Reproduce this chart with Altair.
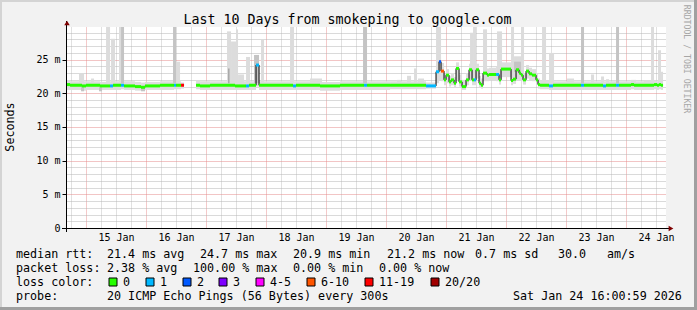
import altair as alt
import pandas as pd

MONO = "DejaVu Sans Mono"
T0 = pd.Timestamp("2026-01-14 16:00:59")
END_HOURS = 238.8

# ---- median segments (hours since start, median ms, loss class, smoke low, smoke high)
seg_hours = [0.0, 1.6, 6.4, 8.0, 13.6, 17.6, 18.8, 22.0, 23.2, 27.6, 30.0, 31.6, 37.6, 43.2, 44.0, 46.0, 47.2,
             52.0, 53.6, 57.6, 67.6, 72.0, 73.2, 76.0, 77.2, 90.8, 92.0, 101.6, 109.6, 119.2, 120.4, 129.6,
             144.0, 148.0, 149.2, 150.0, 151.2, 152.0, 153.2, 154.0, 155.2, 156.0, 157.2, 158.4, 160.0,
             161.2, 162.4, 163.2, 164.0, 165.2, 166.0, 166.8, 168.4, 169.2, 172.0, 173.2, 174.0, 178.0,
             178.8, 180.0, 181.2, 182.0, 182.8, 184.0, 185.2, 186.4, 188.0, 188.8, 189.6, 193.2, 194.8,
             206.0, 207.2, 214.8, 216.0, 220.0, 221.2, 226.0, 227.2, 235.2, 236.4, 237.2, 238.0]
seg_median = [21.3, 21.2, 21.1, 21.2, 21.1, 21.1, 21.2, 21.2, 21.1, 21.0, 20.9, 21.1, 21.2, 21.2, 21.2, 21.2, None,
              21.2, 21.1, 21.2, 21.1, 21.1, 21.2, 24.2, 21.2, 21.1, 21.2, 21.1, 21.2, 21.2, 21.2, 21.2,
              21.1, 23.2, 24.7, 23.3, 22.0, 22.7, 21.7, 22.0, 21.5, 23.7, 21.7, 21.0, 22.0,
              23.5, 22.0, 22.0, 23.5, 21.5, 21.2, 23.0, 22.7, 22.8, 22.8, 22.0, 23.6, 21.9,
              22.1, 23.5, 23.0, 22.7, 22.0, 23.3, 22.9, 22.7, 22.0, 21.3, 21.2, 21.1, 21.2,
              21.2, 21.2, 21.1, 21.2, 21.2, 21.2, 21.3, 21.2, 21.3, 21.2, 21.3, 21.2]
seg_loss = [0, 0, 0, 0, 0, 1, 0, 1, 0, 0, 0, 0, 0, 1, 0, 6, None,
            0, 0, 0, 0, 1, 0, 1, 0, 1, 0, 0, 0, 1, 0, 0,
            1, 1, 2, 5, 0, 0, 0, 0, 0, 0, 0, 0, 0,
            0, 0, 1, 0, 0, 0, 0, 0, 0, 1, 0, 0, 0,
            0, 0, 0, 0, 0, 0, 0, 0, 0, 0, 0, 1, 0,
            1, 0, 1, 0, 1, 0, 0, 0, 0, 0, 0, 0]
seg_lo = [20.5, 20.5, 20.4, 20.5, 20.5, 20.5, 20.5, 20.6, 20.5, 20.4, 20.4, 20.5, 20.5, 20.6, 20.6, 20.7, None,
          20.6, 20.5, 20.5, 20.5, 20.5, 20.5, 21.0, 20.5, 20.5, 20.5, 20.4, 20.5, 20.5, 20.5, 20.6,
          20.7, 21.5, 22.0, 21.8, 21.2, 21.5, 21.0, 21.2, 20.9, 22.0, 21.0, 20.5, 21.2,
          22.0, 21.2, 21.2, 22.2, 20.9, 20.7, 21.8, 21.8, 21.9, 21.8, 21.3, 22.4, 21.2,
          21.4, 22.3, 22.0, 21.8, 21.3, 22.2, 21.9, 21.8, 21.3, 20.7, 20.6, 20.5, 20.5,
          20.5, 20.5, 20.5, 20.5, 20.5, 20.5, 20.6, 20.5, 20.6, 20.5, 20.6, 20.5]
seg_hi = [21.9, 21.8, 21.8, 21.8, 21.7, 21.8, 21.8, 21.9, 21.8, 21.7, 21.6, 21.7, 21.8, 21.9, 21.8, 21.6, None,
          21.9, 21.8, 21.8, 21.8, 21.8, 21.8, 25.0, 21.8, 21.8, 21.8, 21.7, 21.8, 21.8, 21.8, 21.8,
          21.6, 24.5, 25.5, 24.5, 23.0, 23.6, 22.6, 23.0, 22.4, 24.6, 22.8, 22.0, 23.0,
          24.4, 23.2, 23.4, 24.4, 22.6, 22.2, 24.0, 23.7, 23.8, 24.0, 23.0, 24.6, 23.0,
          23.2, 24.7, 24.7, 23.8, 23.0, 24.2, 23.8, 23.6, 23.0, 22.2, 21.9, 21.8, 21.8,
          21.8, 21.8, 21.8, 21.8, 21.8, 21.8, 21.9, 21.8, 21.9, 21.8, 21.9, 21.8]

# ---- extra smoke (ping spread) spikes
spike_start = [5.2, 10.0, 16.0, 18.0, 21.2, 22.0, 42.8, 44.0, 6.0, 13.2, 30.0,
               64.4, 64.8, 66.0, 68.0, 68.8, 72.0, 75.2, 78.0, 89.6, 97.6, 118.8, 132.4, 136.4, 139.2, 140.8,
               148.0, 161.6, 162.8, 166.8, 172.4, 178.0, 179.2, 179.2, 182.0, 190.4, 193.2,
               200.4, 206.0, 210.0, 214.0, 216.0, 220.0, 226.0, 231.2, 234.0, 236.8, 238.0]
spike_end = [7.2, 11.2, 17.6, 19.6, 22.0, 23.2, 44.0, 45.6, 7.2, 14.4, 31.6,
             66.0, 65.4, 68.0, 68.8, 71.2, 73.6, 77.2, 79.2, 91.2, 102.4, 120.4, 134.0, 138.0, 140.4, 143.2,
             150.0, 162.8, 164.0, 168.4, 174.4, 179.2, 182.0, 182.0, 183.2, 192.0, 195.2,
             203.2, 207.2, 211.2, 215.2, 217.2, 221.2, 228.0, 234.0, 235.2, 238.0, 238.8]
spike_lo = [21.5, 21.5, 21.5, 21.5, 21.5, 21.5, 21.5, 21.5, 20.3, 20.3, 20.3,
            21.5, 21.5, 21.5, 21.5, 21.5, 21.5, 21.5, 21.5, 21.5, 21.5, 21.5, 21.5, 21.5, 21.5, 21.5,
            22.0, 22.0, 22.0, 22.0, 22.0, 22.0, 22.0, 23.2, 22.0, 21.5, 21.5,
            21.5, 21.5, 21.5, 21.5, 21.5, 21.5, 21.5, 21.5, 21.5, 21.5, 21.5]
spike_hi = [23.0, 22.2, 29.85, 28.1, 29.85, 29.85, 29.85, 24.7, 21.0, 21.0, 21.0,
            29.2, 23.7, 27.7, 29.5, 22.8, 25.4, 25.7, 28.0, 29.85, 22.2, 29.85, 22.0, 22.6, 23.7, 22.2,
            29.85, 29.0, 29.85, 29.5, 29.2, 29.85, 25.5, 24.7, 29.85, 29.85, 26.0,
            22.2, 29.85, 22.8, 22.5, 22.1, 29.85, 22.0, 21.9, 29.85, 26.4, 23.2]
spike_shade = ["l", "l", "l", "l", "l", "m", "m", "l", "m", "m", "m",
               "l", "d", "l", "l", "l", "l", "m", "l", "l", "l", "m", "l", "l", "l", "l",
               "l", "l", "l", "l", "l", "l", "l", "m", "l", "l", "l",
               "l", "m", "l", "l", "l", "m", "l", "l", "l", "l", "l"]

loss_labels = ["0", "1", "2", "3", "4-5", "6-10", "11-19", "20/20"]
loss_colors = ["#26ff00", "#00b8ff", "#0059ff", "#7e00ff", "#ff00ff", "#ff5500", "#ff0000", "#a10000"]
shade_names = ["band", "l", "m", "d"]
shade_colors = ["#dddddd", "#dcdcdc", "#c4c4c4", "#a8a8a8"]

y_grid_values = list(range(0, 30))
day_labels = list(range(15, 25))

title_text = "Last 10 Days from smokeping to google.com"
rtt_stats = ["median rtt:", "21.4 ms avg", "24.7 ms max", "20.9 ms min", "21.2 ms now", "0.7 ms sd", "30.0", "am/s"]
loss_stats = ["packet loss:", "2.38 % avg", "100.00 % max", "0.00 % min", "0.00 % now"]
probe_text = ["probe:", "20 ICMP Echo Pings (56 Bytes) every 300s", "Sat Jan 24 16:00:59 2026"]

# ---------------------------------------------------------------------------
def ts(h):
    return (T0 + pd.to_timedelta(h, unit="h")).round("s").strftime("%Y-%m-%dT%H:%M:%S")

seg = pd.DataFrame({"h": seg_hours, "median": seg_median, "loss": seg_loss, "lo": seg_lo, "hi": seg_hi})
seg["h_end"] = seg["h"].shift(-1).fillna(END_HOURS)
seg["t"] = seg["h"].map(ts)
seg["t_end"] = seg["h_end"].map(ts)
valid = seg.dropna(subset=["median"]).copy()
valid["loss_label"] = valid["loss"].astype(int).map(lambda i: loss_labels[i])
valid["shade"] = "band"

line_df = pd.concat([seg[["t", "median"]],
                     pd.DataFrame({"t": [ts(END_HOURS)], "median": [seg_median[-1]]})], ignore_index=True)

spikes = pd.DataFrame({"t": [ts(h) for h in spike_start], "t_end": [ts(h) for h in spike_end],
                       "lo": spike_lo, "hi": spike_hi, "shade": spike_shade})
smoke = pd.concat([valid[["t", "t_end", "lo", "hi", "shade"]], spikes], ignore_index=True)
smoke["order"] = smoke["shade"].map({s: i for i, s in enumerate(shade_names)})
smoke = smoke.sort_values("order", kind="stable")
smoke["col"] = smoke["shade"].map(dict(zip(shade_names, shade_colors)))
valid["col"] = valid["loss_label"].map(dict(zip(loss_labels, loss_colors)))

# whole-hour domain keeps the 6-hour grid on exact pixels (600 px / 240 h)
xscale = alt.Scale(domain=[alt.DateTime(year=2026, month=1, date=14, hours=16),
                           alt.DateTime(year=2026, month=1, date=24, hours=16)])
yscale = alt.Scale(domain=[0, 29.85], nice=False, zero=False)

x_grid = [alt.DateTime(year=2026, month=1, date=t.day, hours=t.hour)
          for t in pd.date_range("2026-01-14 18:00", "2026-01-24 12:00", freq="6h")]

x_axis = alt.Axis(values=x_grid, format="%d %b",
                  labelExpr="hours(datum.value) == 12 ? datum.label : ''",
                  grid=True, gridDash=[1, 1], gridWidth=1,
                  gridColor={"condition": {"test": "hours(datum.value) == 0", "value": "#e99494"},
                             "value": "#c2c2c2"},
                  domain=False, ticks=False, labelFont=MONO, labelFontSize=10,
                  labelColor="#000000", labelPadding=4, title=None, labelFlush=False, labelOverlap=False)
y_axis = alt.Axis(values=y_grid_values,
                  labelExpr="datum.value % 5 == 0 ? (datum.value == 0 ? '0' : datum.value + ' m') : ''",
                  grid=True, gridDash=[1, 1], gridWidth=1,
                  gridColor={"condition": {"test": "datum.value % 5 == 0", "value": "#e58a8a"},
                             "value": "#b4b4b4"},
                  domain=False, ticks=True, tickSize=4, tickWidth=1,
                  tickColor={"condition": {"test": "datum.value % 5 == 0", "value": "#000000"},
                             "value": "transparent"},
                  labelFont=MONO, labelFontSize=10, labelColor="#000000", labelPadding=2, title=None,
                  labelOverlap=False)

def X(f):
    return alt.X(f, type="temporal", scale=xscale, axis=x_axis)

def Y(f):
    return alt.Y(f, type="quantitative", scale=yscale, axis=y_axis)

layers = []

# smoke (colours carried as data-mapped identity values)
layers.append(alt.Chart(smoke).mark_rect(clip=True).encode(
    x=X("t"), x2="t_end", y=Y("lo"), y2="hi", color=alt.Color("col:N", scale=None)))

# median line (black) and loss-coloured median
layers.append(alt.Chart(line_df).mark_line(interpolate="step-after", color="#000000", strokeWidth=1, clip=True).encode(
    x=X("t"), y=Y("median")))
layers.append(alt.Chart(valid).mark_rule(strokeWidth=3, strokeCap="butt", clip=True).encode(
    x=X("t"), x2="t_end", y=Y("median"), color=alt.Color("col:N", scale=None)))

dummy = pd.DataFrame({"d": [0]})
OX, OY = 66, 27

def txt(s, xa, ya, size=11.7, align="left", angle=None, color="#000000", baseline="alphabetic"):
    kw = dict(text=s, font=MONO, fontSize=size, align=align, baseline=baseline, color=color)
    if angle is not None:
        kw["angle"] = angle
    return alt.Chart(dummy).mark_text(**kw).encode(x=alt.value(xa - OX), y=alt.value(ya - OY))

def box(x1, y1, x2, y2, fill, stroke=None):
    kw = dict(color=fill)
    if stroke:
        kw.update(stroke=stroke, strokeWidth=1)
    return alt.Chart(dummy).mark_rect(**kw).encode(
        x=alt.value(x1 - OX), x2=alt.value(x2 - OX), y=alt.value(y1 - OY), y2=alt.value(y2 - OY))

# axis lines and arrows
layers.append(alt.Chart(dummy).mark_rule(color="#000000", strokeWidth=1).encode(
    x=alt.value(0.5), y=alt.value(232 - OY), y2=alt.value(21 - OY)))
layers.append(alt.Chart(dummy).mark_rule(color="#000000", strokeWidth=1).encode(
    x=alt.value(62 - OX), x2=alt.value(669 - OX), y=alt.value(201.5)))
layers.append(alt.Chart(dummy).mark_point(shape="triangle-up", filled=True, size=30, color="#7f0000", opacity=1).encode(
    x=alt.value(67 - OX), y=alt.value(23 - OY)))
layers.append(alt.Chart(dummy).mark_point(shape="triangle-right", filled=True, size=30, color="#7f0000", opacity=1).encode(
    x=alt.value(671 - OX), y=alt.value(228.5 - OY)))

# frame
layers.append(box(0, 0, 697, 2, "#d4d4d4"))
layers.append(box(0, 0, 2, 310, "#d4d4d4"))
layers.append(box(694, 0, 697, 310, "#a0a0a0"))
layers.append(box(0, 307, 697, 310, "#a0a0a0"))

# title, y title, watermark
layers.append(txt(title_text, 347.5, 24, size=13.3, align="center"))
layers.append(txt("Seconds", 14, 127, size=11.7, align="center", angle=270))
layers.append(txt("RRDTOOL / TOBI OETIKER", 686, 59, size=8.2, align="center", angle=90, color="#a6a6a6",
                  baseline="middle"))

# legend rows
rtt_x = [16, 107, 200, 293, 387, 475, 558, 607]
for s, xa in zip(rtt_stats, rtt_x):
    layers.append(txt(s, xa, 258))
loss_x = [16, 107, 193, 293, 379]
for s, xa in zip(loss_stats, loss_x):
    layers.append(txt(s, xa, 272))
layers.append(txt("loss color:", 16, 286))
box_x = [109, 146, 183, 219, 256, 307, 365, 431]
for lab, col, bx in zip(loss_labels, loss_colors, box_x):
    layers.append(box(bx, 278, bx + 8, 286, col, stroke="#000000"))
    layers.append(txt(lab, bx + 14, 286))
probe_x = [16, 107, 513]
for s, xa in zip(probe_text, probe_x):
    layers.append(txt(s, xa, 300))

chart = alt.layer(*layers).properties(
    width=600, height=201,
    padding={"left": OX, "top": OY, "right": 697 - 600 - OX, "bottom": 310 - 201 - OY},
    autosize=alt.AutoSizeParams(type="none"),
    background="#f2f2f2",
).configure_view(fill="#ffffff", stroke=None)

chart.save("out.html", embed_options={"renderer": "svg", "actions": False})
